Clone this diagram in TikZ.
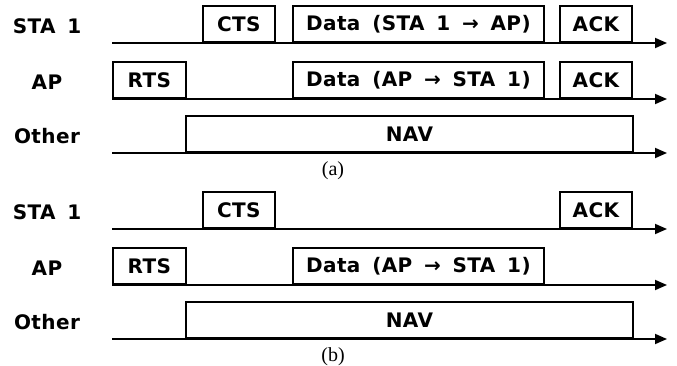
\documentclass[tikz,border=0pt]{standalone}
\usepackage{fontspec}
\newfontfamily\framefont[LetterSpace=2, WordSpace=1.6]{DejaVu Sans}
\newfontfamily\capfont{Liberation Serif}
\usepackage{tikz}
\usetikzlibrary{arrows.meta}

\begin{document}
\begin{tikzpicture}[x=1pt,y=-1pt]
    \tikzstyle{frame}=[draw, line width=1.8pt, inner sep=0pt,
            minimum height=36pt, anchor=south west,
            font=\framefont\bfseries\fontsize{20}{22}\selectfont]
    \tikzstyle{timeline}=[line width=1.8pt,
            -{Triangle[length=12pt, width=10pt]}]
    \tikzstyle{station}=[inner sep=0pt,
            font=\framefont\bfseries\fontsize{20}{22}\selectfont]
    \tikzstyle{caption}=[inner sep=0pt,
            font=\capfont\fontsize{20}{22}\selectfont]

    \useasboundingbox (0,0) rectangle (677,366);

        % the two panels share stations, lines and most frames
        \foreach \p/\y in {a/0, b/186}
        {
            \coordinate (sta\p) at (112,43+\y);
            \coordinate (staend\p) at (667,43+\y);
            \coordinate (ap\p) at (112,99+\y);
            \coordinate (apend\p) at (667,99+\y);
            \coordinate (oth\p) at (112,153+\y);
            \coordinate (othend\p) at (667,153+\y);

            \node[station] (lsta\p) at (47,26+\y) {STA 1};
            \node[station] (lap\p) at (47,82+\y) {AP};
            \node[station] (loth\p) at (47,136+\y) {Other};

            \draw[timeline] (sta\p) -- (staend\p);
            \draw[timeline] (ap\p) -- (apend\p);
            \draw[timeline] (oth\p) -- (othend\p);

            \node[frame, minimum width=73pt] (rts\p) at (ap\p) {RTS};
            \node[frame, minimum width=72pt] (cts\p) at (202,43+\y) {CTS};
            \node[frame, minimum width=251pt] (apdata\p) at (292,99+\y)
            {Data (AP → STA 1)};
            \node[frame, minimum width=72pt] (staack\p) at (559,43+\y) {ACK};
            \node[frame, minimum width=447pt] (nav\p) at (185,153+\y) {NAV};

            \node[caption] (cap\p) at (333,171+\y) {(\p)};
        }

        % only in (a): data and ack the other way
        \node[frame, minimum width=251pt] (stadata) at (292,43)
        {Data (STA 1 → AP)};
        \node[frame, minimum width=72pt] (apack) at (559,99) {ACK};

\end{tikzpicture}
\end{document}
